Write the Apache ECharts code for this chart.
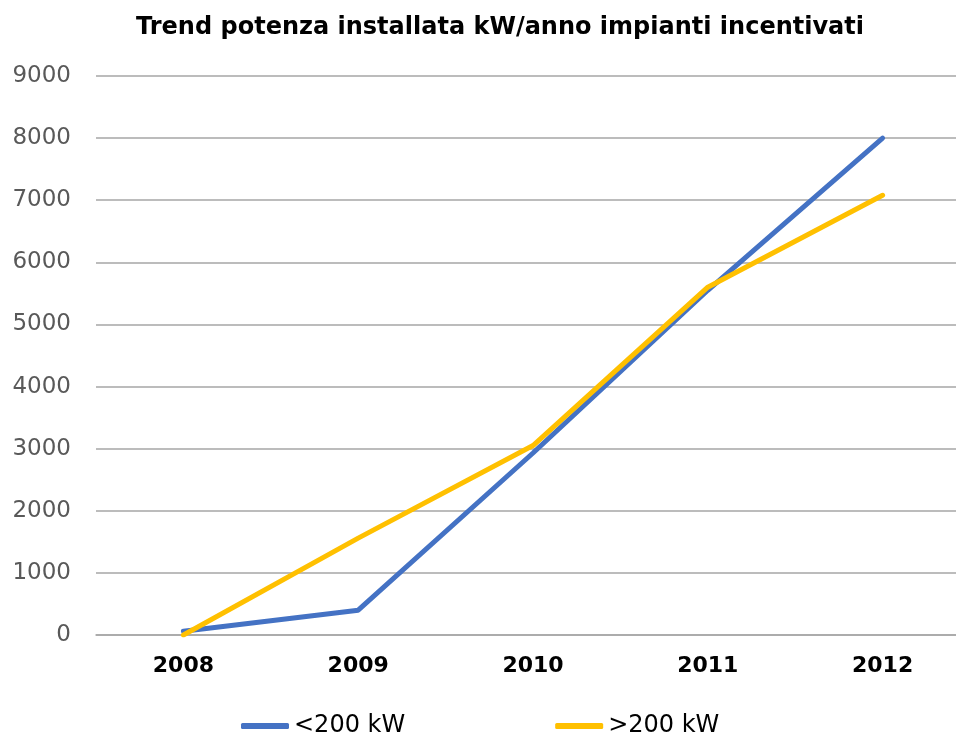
<!DOCTYPE html>
<html>
<head>
<meta charset="utf-8">
<script src="https://cdn.jsdelivr.net/npm/echarts@6/dist/echarts.min.js"></script>
<style>
  html, body { margin: 0; padding: 0; background: #fff; }
  #chart { width: 956px; height: 735px; }
</style>
</head>
<body>
<div id="chart"></div>
<script>
const years = ["2008", "2009", "2010", "2011", "2012"];
const under200 = [60, 400, 2930, 5550, 8000];
const over200 = [0, 1560, 3050, 5600, 7080];
const yTicks = { min: 0, max: 9000, interval: 1000 };

const chart = echarts.init(document.getElementById("chart"));
const font = "'DejaVu Sans', sans-serif";

chart.setOption({
  animation: false,
  title: {
    text: "Trend potenza installata kW/anno impianti incentivati",
    left: 495,
    top: 11,
    textAlign: "center",
    textStyle: { fontFamily: font, fontSize: 24, fontWeight: "bold", color: "#000" },
  },
  legend: {
    top: 709,
    left: 236,
    itemGap: 150,
    itemWidth: 48,
    itemHeight: 6,
    icon: "roundRect",
    textStyle: { fontFamily: font, fontSize: 24, color: "#000" },
    data: ["<200 kW", ">200 kW"],
  },
  grid: { left: 96, top: 76, width: 874, height: 559, outerBoundsMode: "none" },
  xAxis: {
    type: "category",
    data: years,
    boundaryGap: true,
    axisLine: { show: true, lineStyle: { color: "#a6a6a6", width: 1.5 } },
    axisTick: { show: false },
    axisLabel: { fontFamily: font, fontSize: 22, fontWeight: "bold", color: "#000", margin: 20 },
  },
  yAxis: {
    type: "value",
    min: yTicks.min,
    max: yTicks.max,
    interval: yTicks.interval,
    axisLine: { show: false },
    axisTick: { show: false },
    axisLabel: {
      fontFamily: font,
      fontSize: 23,
      color: "#595959",
      margin: 25,
      formatter: (v) => String(v),
    },
    splitLine: { lineStyle: { color: "#a6a6a6", width: 1.5 } },
  },
  series: [
    {
      name: "<200 kW",
      type: "line",
      data: under200,
      symbol: "none",
      lineStyle: { color: "#4472c4", width: 5, cap: "round" },
      itemStyle: { color: "#4472c4" },
    },
    {
      name: ">200 kW",
      type: "line",
      data: over200,
      symbol: "none",
      lineStyle: { color: "#ffc000", width: 5, cap: "round" },
      itemStyle: { color: "#ffc000" },
    },
  ],
});
</script>
</body>
</html>
